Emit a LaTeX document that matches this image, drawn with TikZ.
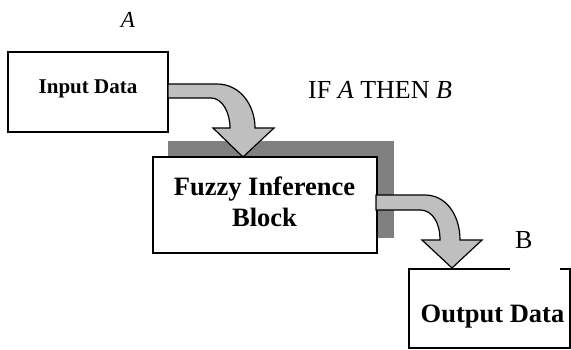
\documentclass[tikz,border=0pt]{standalone}
\usepackage{fontspec}
\setmainfont{Liberation Serif}
\begin{document}
\begin{tikzpicture}[x=1pt,y=-1pt,
  box/.style={draw=black,line width=1.4pt,fill=white,inner sep=0pt},
  shadowbox/.style={fill=black!50,inner sep=0pt},
  bentarrow/.style={draw=black,line width=1.2pt,fill=black!25,line join=miter},
  boldlbl/.style={font=\bfseries,inner sep=0pt,anchor=base},
  plainlbl/.style={inner sep=0pt,anchor=base}]
\useasboundingbox (0,0) rectangle (571,349);
% shadow
\node[shadowbox,minimum width=226pt,minimum height=97pt] (shadow) at (281,189.5) {};
% boxes
\node[box,minimum width=160pt,minimum height=80pt] (input) at (88,92) {};
\node[box,minimum width=224pt,minimum height=96pt] (fuzzy) at (265,205) {};
\node[box,minimum width=161pt,minimum height=79pt] (output) at (489.5,308.5) {};
% bent block arrows
\draw[bentarrow] (168,84) -- (217,84) .. controls (240,84) and (255,105) .. (255,128)
  -- (274,128) -- (243,157) -- (213,128) -- (230,128)
  .. controls (230,112) and (222,98) .. (211,98) -- (168,98) -- cycle;
\draw[bentarrow] (376,195) -- (425,195) .. controls (446,195) and (460,215) .. (460,240)
  -- (482,240) -- (452,268) -- (422,240) -- (440,240)
  .. controls (440,222) and (432,210) .. (420,210) -- (376,210) -- cycle;
% labels
\node[boldlbl,font=\fontsize{21}{25}\bfseries] (tin) at (88,93) {Input Data};
\node[boldlbl,font=\fontsize{26.5}{31}\bfseries] (tfz1) at (264.5,195) {Fuzzy Inference};
\node[boldlbl,font=\fontsize{26.5}{31}\bfseries] (tfz2) at (264.5,226) {Block};
\node[boldlbl,font=\fontsize{26.5}{31}\bfseries] (tout) at (492.5,322) {Output Data};
\node[plainlbl,font=\fontsize{23}{27}\selectfont] (lA) at (128,27) {\textit{A}};
\node[plainlbl,font=\fontsize{26}{30}\selectfont,anchor=base west] (lif) at (308,98) {IF \textit{A} THEN \textit{B}};
\node[fill=white,inner sep=0pt,minimum width=50pt,minimum height=40pt] (lBbg) at (535,250) {};
\node[plainlbl,font=\fontsize{26}{30}\selectfont,anchor=base west] (lB) at (515,248) {B};
\end{tikzpicture}
\end{document}
